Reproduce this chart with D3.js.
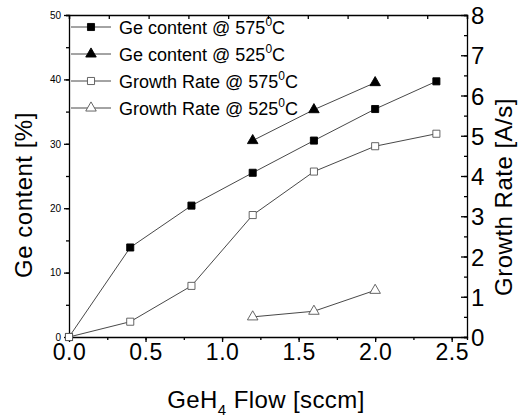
<!DOCTYPE html>
<html>
<head>
<meta charset="utf-8">
<script src="https://cdn.jsdelivr.net/npm/d3@7"></script>
<style>
  body { margin: 0; background: #fff; }
  text { font-family: Arial, "Liberation Sans", sans-serif; }
</style>
</head>
<body>
<svg width="519" height="419"></svg>
<script>
const svg = d3.select('svg');

// GeH4 flow values (sccm)
const flow575 = [0, 0.4, 0.8, 1.2, 1.6, 2.0, 2.4];
const flow525 = [1.2, 1.6, 2.0];

// Ge content [%] (left axis)
const geContent575 = [0, 13.9, 20.4, 25.5, 30.5, 35.4, 39.7];
const geContent525 = [30.5, 35.3, 39.5];

// growth rate [A/s] (right axis)
const growth575 = [0, 0.38, 1.27, 3.03, 4.11, 4.74, 5.05];
const growth525 = [0.5, 0.64, 1.16];

const xTicks = [0, 0.5, 1.0, 1.5, 2.0, 2.5];
const leftTicks = [0, 10, 20, 30, 40, 50];
const rightTicks = [0, 1, 2, 3, 4, 5, 6, 7, 8];

const margin = { left: 69, top: 15, right: 52, bottom: 82 };
const width = 519, height = 419;

const x = d3.scaleLinear().domain([0, 2.6]).range([margin.left, width - margin.right]);
const yL = d3.scaleLinear().domain([0, 50]).range([height - margin.bottom, margin.top]);
const yR = d3.scaleLinear().domain([0, 8]).range([height - margin.bottom, margin.top]);

const series = [
  { name: 'Ge content @ 575', xs: flow575, ys: geContent575, y: yL, shape: d3.symbolSquare, fill: '#000', size: 50 },
  { name: 'Ge content @ 525', xs: flow525, ys: geContent525, y: yL, shape: d3.symbolTriangle, fill: '#000', size: 48 },
  { name: 'Growth Rate @ 575', xs: flow575, ys: growth575, y: yR, shape: d3.symbolSquare, fill: '#fff', size: 50 },
  { name: 'Growth Rate @ 525', xs: flow525, ys: growth525, y: yR, shape: d3.symbolTriangle, fill: '#fff', size: 48 }
];

// axes
const bottomAxis = svg.append('g').attr('transform', `translate(0,${yL(0)})`);
bottomAxis.call(d3.axisBottom(x).tickValues(d3.range(0, 2.51, 0.25)).tickFormat('').tickSize(3));
bottomAxis.append('g').call(d3.axisBottom(x).tickValues(xTicks).tickFormat(d3.format('.1f')).tickSize(5).tickPadding(2))
  .call(g => g.select('.domain').remove())
  .selectAll('text').attr('font-size', 23).attr('letter-spacing', 0.5).attr('fill', '#000');

const topAxis = svg.append('g').attr('transform', `translate(0,${margin.top})`);
topAxis.call(d3.axisBottom(x).tickValues(d3.range(0, 2.61, 0.26)).tickFormat('').tickSize(4));

const leftAxis = svg.append('g').attr('transform', `translate(${margin.left},0)`);
leftAxis.call(d3.axisLeft(yL).tickValues(d3.range(0, 51, 5)).tickFormat('').tickSize(3));
leftAxis.append('g').call(d3.axisLeft(yL).tickValues(leftTicks).tickSize(5).tickPadding(3))
  .call(g => g.select('.domain').remove())
  .selectAll('text').attr('font-size', 10).attr('fill', '#000');

const rightAxis = svg.append('g').attr('transform', `translate(${width - margin.right},0)`);
rightAxis.call(d3.axisLeft(yR).tickValues(d3.range(0, 8.01, 0.5)).tickFormat('').tickSize(3));
rightAxis.append('g').call(d3.axisLeft(yR).tickValues(rightTicks).tickSize(6).tickFormat(d3.format('d')))
  .call(g => g.select('.domain').remove())
  .selectAll('text').attr('font-size', 24).attr('fill', '#000')
  .attr('text-anchor', 'start').attr('x', 4).attr('dy', '0.36em');

svg.selectAll('.domain, .tick line').attr('stroke', '#000').attr('stroke-width', 1.3);

// lines and markers
const line = s => d3.line().x((d, i) => x(s.xs[i])).y(d => s.y(d));
series.forEach(s => {
  svg.append('path').datum(s.ys)
    .attr('d', line(s))
    .attr('fill', 'none').attr('stroke', '#333').attr('stroke-width', 0.9);
  svg.selectAll(null).data(s.ys).enter().append('path')
    .attr('transform', (d, i) => `translate(${x(s.xs[i])},${s.y(d)})`)
    .attr('d', d3.symbol(s.shape, s.size))
    .attr('fill', s.fill).attr('stroke', s.fill === '#000' ? '#000' : '#555').attr('stroke-width', 0.9);
});

// legend
const legend = svg.append('g');
series.forEach((s, i) => {
  const ly = 27 + i * 27;
  legend.append('line').attr('x1', 71).attr('x2', 111).attr('y1', ly).attr('y2', ly)
    .attr('stroke', '#333').attr('stroke-width', 0.9);
  legend.append('path').attr('transform', `translate(91,${ly})`)
    .attr('d', d3.symbol(s.shape, s.size))
    .attr('fill', s.fill).attr('stroke', s.fill === '#000' ? '#000' : '#555').attr('stroke-width', 0.9);
  const t = legend.append('text').attr('x', 119).attr('y', ly + 7).attr('font-size', 18);
  t.append('tspan').text(s.name);
  t.append('tspan').attr('font-size', 12).attr('dy', -8).text('0');
  t.append('tspan').attr('dy', 8).text('C');
});

// axis titles
const xt = svg.append('text').attr('x', 266).attr('y', 408).attr('text-anchor', 'middle')
  .attr('font-size', 24).attr('letter-spacing', 0.4);
xt.append('tspan').text('GeH');
xt.append('tspan').attr('font-size', 15).attr('dy', 7).text('4');
xt.append('tspan').attr('dy', -7).text(' Flow [sccm]');

svg.append('text').attr('transform', `translate(32,195) rotate(-90)`)
  .attr('text-anchor', 'middle').attr('font-size', 24).attr('letter-spacing', 0.5).text('Ge content [%]');
svg.append('text').attr('transform', `translate(512,197) rotate(-90)`)
  .attr('text-anchor', 'middle').attr('font-size', 24).attr('letter-spacing', 0.5).text('Growth Rate [A/s]');
</script>
</body>
</html>
